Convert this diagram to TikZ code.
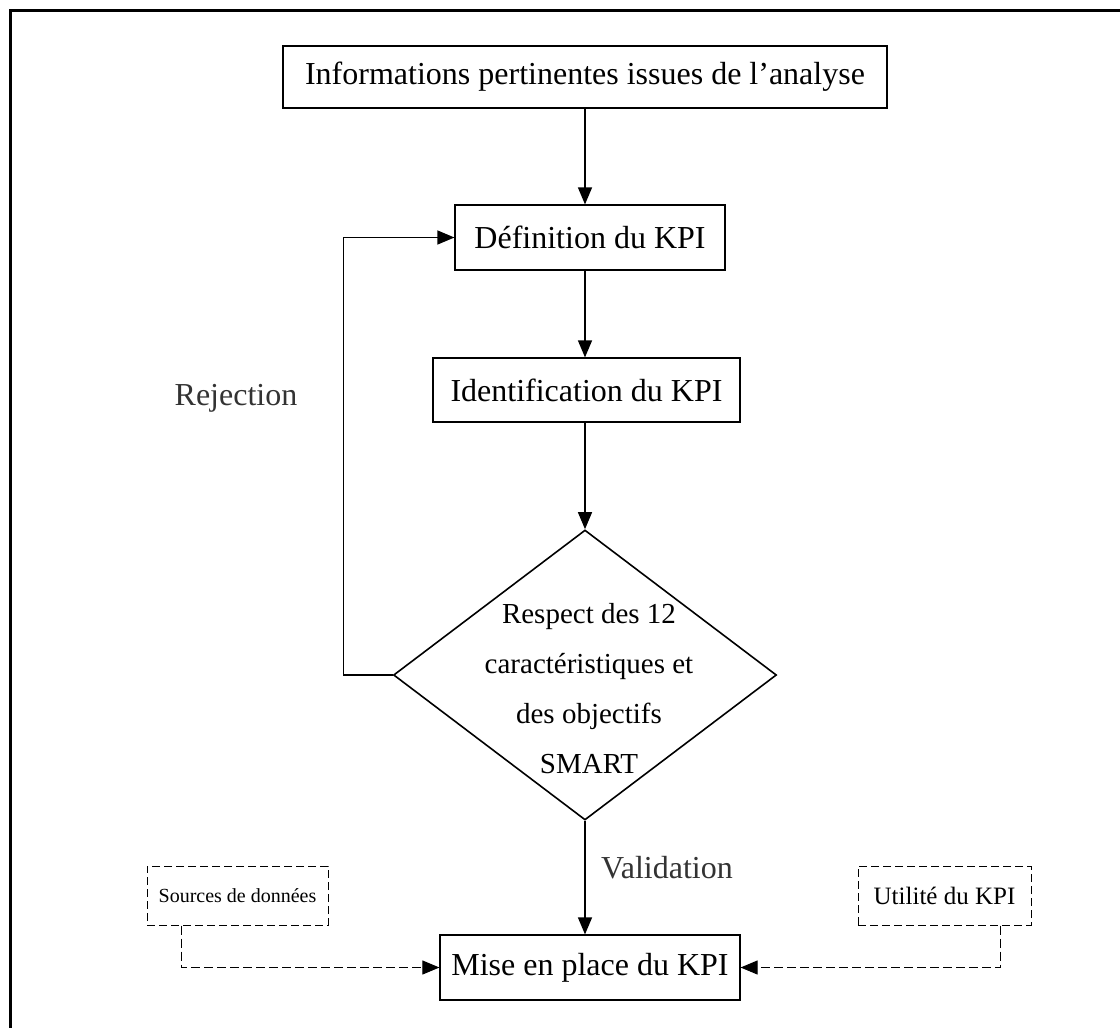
\documentclass[tikz,border=0pt]{standalone}
\usepackage{fontspec}
\setmainfont{Liberation Serif}
\usetikzlibrary{shapes.geometric,arrows.meta}

\begin{document}
\begin{tikzpicture}[x=1pt,y=-1pt,
  every node/.style={font=\fontsize{32}{38}\selectfont},
  stepbox/.style={draw,line width=1.2pt,inner sep=0pt,align=center},
  srcbox/.style={stepbox,line width=1pt,dash pattern=on 8pt off 4pt},
  flow/.style={line width=1.3pt,-{Triangle[length=17pt,width=14pt]}},
  dflow/.style={flow,line width=1pt,dash pattern=on 9pt off 4pt},
  note/.style={text=black!80}]

  % page area and the framing rule (top and left edges)
  \useasboundingbox (0,0) rectangle (1120,1028);
  \draw[line width=3pt] (10,1028) -- (10,10) -- (1120,10);

  % process steps
  \node[stepbox,minimum width=604pt,minimum height=62pt] (info) at (585,77)
    {Informations pertinentes issues de l’analyse};
  \node[stepbox,minimum width=270pt,minimum height=65pt] (def) at (590,237.5)
    {Définition du KPI};
  \node[stepbox,minimum width=307pt,minimum height=64pt] (ident) at (586.5,390)
    {Identification du KPI};
  \node[diamond,draw,line width=1.6pt,inner sep=0pt,
        minimum width=383pt,minimum height=290pt] (dec) at (585,675) {};
  \node[align=center,font=\fontsize{29}{50}\selectfont] (dectext) at (589,689)
    {Respect des 12\\caractéristiques et\\des objectifs\\SMART};
  \node[stepbox,minimum width=300pt,minimum height=65pt] (mise) at (590,967.5)
    {Mise en place du KPI};

  % inputs
  \node[srcbox,minimum width=181pt,minimum height=59pt,
        font=\fontsize{20}{24}\selectfont] (src) at (237.5,895.5)
    {Sources de données};
  \node[srcbox,minimum width=173pt,minimum height=59pt,
        font=\fontsize{25}{30}\selectfont] (util) at (944.5,895.5)
    {Utilité du KPI};

  % main flow
  \draw[flow] (info.south -| dec.north) -- (def.north -| dec.north);
  \draw[flow] (def.south -| dec.north) -- (ident.north -| dec.north);
  \draw[flow] (ident.south -| dec.north) -- (dec.north);
  \draw[flow] (dec.south) -- (mise.north -| dec.south);
  \draw[flow] (dec.west) -- ++(-49,0) |- (def.west);

  % inputs feeding the set-up step
  \draw[dflow] ([xshift=-56.5pt]src.south) |- (mise.west);
  \draw[dflow] ([xshift=56pt]util.south) |- (mise.east);

  % decision labels
  \node[note] (rej) at (236,398) {Rejection};
  \node[note] (val) at (667,868) {Validation};
\end{tikzpicture}
\end{document}
